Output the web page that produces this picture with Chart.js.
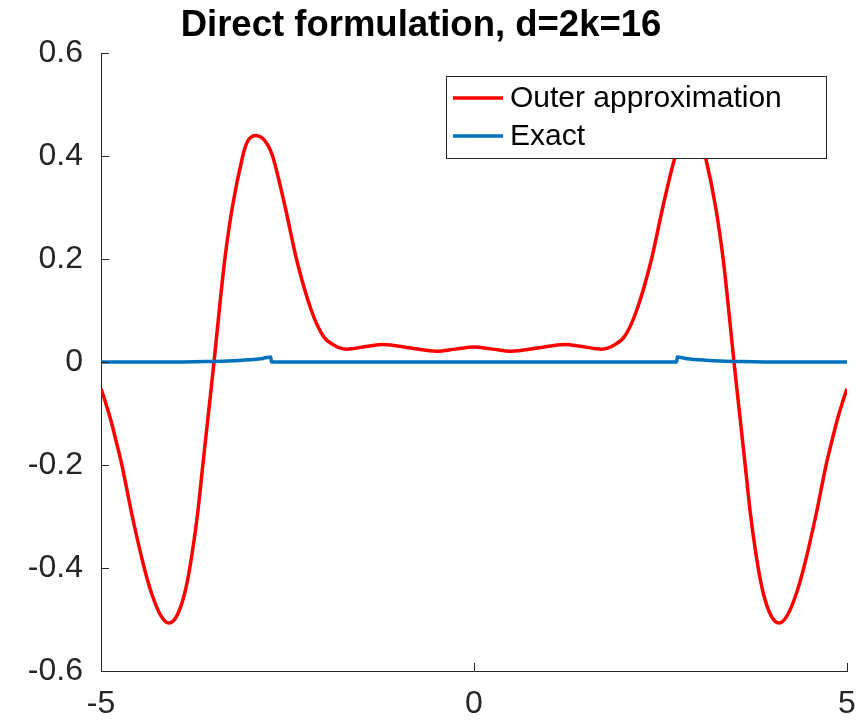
<!DOCTYPE html>
<html>
<head>
<meta charset="utf-8">
<script src="https://cdn.jsdelivr.net/npm/chart.js@4/dist/chart.umd.min.js"></script>
<style>
  html, body { margin: 0; padding: 0; background: #ffffff; }
  #wrap { width: 861px; height: 720px; }
</style>
</head>
<body>
<div id="wrap"><canvas id="c" width="861" height="720"></canvas></div>
<script>
const chartTitle = "Direct formulation, d=2k=16";
const seriesLabels = ["Outer approximation", "Exact"];

const redX = [-5.00, -4.94, -4.87, -4.80, -4.72, -4.58, -4.42, -4.32, -4.20, -4.09, -3.98, -3.88, -3.81, -3.71, -3.635,
  -3.56, -3.485, -3.415, -3.34, -3.24, -3.10, -3.06, -3.02, -2.93, -2.83, -2.76, -2.70, -2.53, -2.38, -2.18, -2.02, -1.88, -1.71,
  -1.45, -1.215, -0.85, -0.50, -0.25, 0.00, 0.25, 0.50, 0.85, 1.215, 1.45, 1.71, 1.88, 2.02, 2.18, 2.38, 2.53, 2.70, 2.76,
  2.83, 2.93, 3.02, 3.06, 3.10, 3.24, 3.34, 3.415, 3.485, 3.56, 3.635, 3.71, 3.81, 3.88, 3.98, 4.09, 4.20, 4.32, 4.42, 4.58,
  4.72, 4.80, 4.87, 4.94, 5.00];
const redY = [-0.052, -0.078, -0.112, -0.152, -0.20, -0.30, -0.40, -0.45, -0.492, -0.507, -0.492, -0.45, -0.40, -0.30, -0.20,
  -0.10, 0.0, 0.10, 0.20, 0.30, 0.40, 0.42, 0.432, 0.44, 0.434, 0.42, 0.40, 0.30, 0.20, 0.10, 0.05, 0.033, 0.025,
  0.030, 0.034, 0.027, 0.021, 0.025, 0.029, 0.025, 0.021, 0.027, 0.034, 0.030, 0.025, 0.033, 0.05, 0.10, 0.20, 0.30, 0.40, 0.42,
  0.434, 0.44, 0.432, 0.42, 0.40, 0.30, 0.20, 0.10, 0.0, -0.10, -0.20, -0.30, -0.40, -0.45, -0.492, -0.507, -0.492, -0.45, -0.40, -0.30,
  -0.20, -0.152, -0.112, -0.078, -0.052];

const blueX = [-5.0, -4.2, -3.9, -3.6, -3.3, -3.1, -2.95, -2.83, -2.725, -2.715, 2.715, 2.725, 2.83, 2.95, 3.1, 3.3, 3.6, 3.9, 4.2, 5.0];
const blueY = [0, 0, 0.0002, 0.0008, 0.002, 0.0035, 0.005, 0.007, 0.0095, 0, 0, 0.0095, 0.007, 0.005, 0.0035, 0.002, 0.0008, 0.0002, 0, 0];

const xTicks = [-5, 0, 5];
const yTicks = [-0.6, -0.4, -0.2, 0, 0.2, 0.4, 0.6];
const yTickLabels = ["-0.6", "-0.4", "-0.2", "0", "0.2", "0.4", "0.6"];

const axisColor = "#262626";
const fontFamily = "'Liberation Sans', Arial, Helvetica, sans-serif";

function pts(xs, ys) { return xs.map((x, i) => ({ x: x, y: ys[i] })); }

const titlePlugin = {
  id: "mtitle",
  afterDraw(chart) {
    const ctx = chart.ctx;
    ctx.save();
    ctx.fillStyle = "#000000";
    ctx.font = "bold 36.5px " + fontFamily;
    ctx.textAlign = "center";
    ctx.textBaseline = "alphabetic";
    ctx.fillText(chartTitle, 421, 36);
    ctx.restore();
  }
};

const inwardTicks = {
  id: "inwardTicks",
  afterDraw(chart) {
    const ctx = chart.ctx;
    const a = chart.chartArea;
    const xs = chart.scales.x, ys = chart.scales.y;
    ctx.save();
    ctx.strokeStyle = axisColor;
    ctx.lineWidth = 1;
    ctx.beginPath();
    yTicks.forEach(v => {
      const py = Math.round(ys.getPixelForValue(v)) + 0.5;
      ctx.moveTo(a.left, py);
      ctx.lineTo(a.left + 8, py);
    });
    xTicks.forEach(v => {
      const px = Math.round(xs.getPixelForValue(v)) + 0.5;
      ctx.moveTo(px, a.bottom);
      ctx.lineTo(px, a.bottom - 8);
    });
    ctx.stroke();
    ctx.restore();
  }
};

const boxLegend = {
  id: "boxLegend",
  afterDatasetsDraw(chart) {
    const ctx = chart.ctx;
    const bx = 446, by = 76, bw = 380, bh = 82;
    ctx.save();
    ctx.fillStyle = "#ffffff";
    ctx.fillRect(bx, by, bw, bh);
    ctx.strokeStyle = axisColor;
    ctx.lineWidth = 1;
    ctx.strokeRect(bx + 0.5, by + 0.5, bw, bh);
    const rows = [98, 136];
    chart.data.datasets.forEach((ds, i) => {
      const y = rows[i];
      ctx.strokeStyle = ds.borderColor;
      ctx.lineWidth = ds.borderWidth;
      ctx.beginPath();
      ctx.moveTo(453, y);
      ctx.lineTo(503, y);
      ctx.stroke();
      ctx.fillStyle = "#000000";
      ctx.font = "30px " + fontFamily;
      ctx.textAlign = "left";
      ctx.textBaseline = "middle";
      ctx.fillText(ds.label, 510, y + 1);
    });
    ctx.restore();
  }
};

new Chart(document.getElementById("c"), {
  type: "scatter",
  data: {
    datasets: [
      {
        label: seriesLabels[0],
        data: pts(redX, redY),
        showLine: true,
        borderColor: "#FF0000",
        backgroundColor: "#FF0000",
        borderWidth: 3.5,
        pointRadius: 0,
        cubicInterpolationMode: "monotone",
        order: 1
      },
      {
        label: seriesLabels[1],
        data: pts(blueX, blueY),
        showLine: true,
        borderColor: "#0072BD",
        backgroundColor: "#0072BD",
        borderWidth: 3.5,
        pointRadius: 0,
        cubicInterpolationMode: "monotone",
        order: 0
      }
    ]
  },
  options: {
    responsive: false,
    animation: false,
    devicePixelRatio: 1,
    layout: { padding: { top: 53, right: 14, left: 0, bottom: 0 } },
    plugins: {
      legend: { display: false },
      title: { display: false },
      tooltip: { enabled: false }
    },
    scales: {
      x: {
        type: "linear",
        min: -5, max: 5,
        afterBuildTicks: s => { s.ticks = xTicks.map(v => ({ value: v })); },
        afterFit: s => { s.height = 49; s.paddingRight = 0; s.paddingLeft = 0; },
        grid: { display: true, drawOnChartArea: false, drawTicks: false, color: "rgba(0,0,0,0)" },
        border: { display: true, color: axisColor, width: 1 },
        ticks: {
          color: axisColor,
          padding: 14,
          maxRotation: 0,
          font: { size: 32, family: fontFamily },
          callback: v => String(v)
        }
      },
      y: {
        type: "linear",
        min: -0.6, max: 0.6,
        afterBuildTicks: s => { s.ticks = yTicks.map(v => ({ value: v })); },
        afterFit: s => { s.width = 101; s.paddingTop = 0; s.paddingBottom = 0; },
        grid: { display: true, drawOnChartArea: false, drawTicks: false, color: "rgba(0,0,0,0)" },
        border: { display: true, color: axisColor, width: 1 },
        ticks: {
          color: axisColor,
          padding: 18,
          font: { size: 32, family: fontFamily },
          callback: v => {
            const i = yTicks.findIndex(t => Math.abs(t - v) < 1e-9);
            return i >= 0 ? yTickLabels[i] : "";
          }
        }
      }
    }
  },
  plugins: [titlePlugin, inwardTicks, boxLegend]
});
</script>
</body>
</html>
